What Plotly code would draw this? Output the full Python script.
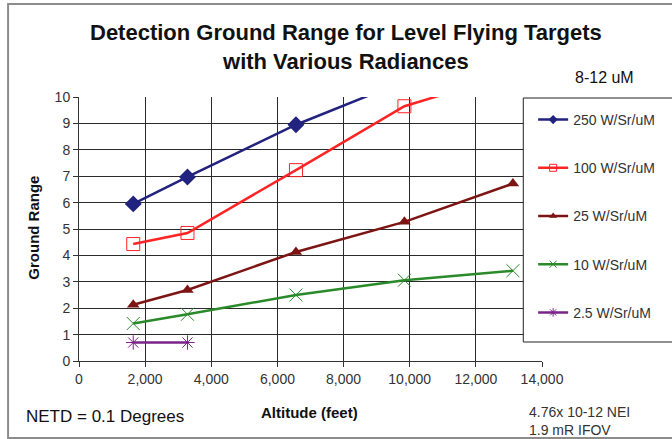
import plotly.graph_objects as go

# Altitude sample points (feet)
altitude = [1640, 3280, 6560, 9840, 13120]

# Detection ground range per target radiance
range_250 = [5.95, 6.97, 8.95, 10.6, 12.0]
range_100 = [4.43, 4.85, 7.23, 9.65, 10.9]
range_25 = [2.13, 2.69, 4.13, 5.27, 6.72]
range_10 = [1.42, 1.77, 2.5, 3.06, 3.42]
altitude_2p5 = [1640, 3280]
range_2p5 = [0.7, 0.7]

series_names = ["250 W/Sr/uM", "100 W/Sr/uM", "25 W/Sr/uM", "10 W/Sr/uM", "2.5 W/Sr/uM"]
x_ticks = [0, 2000, 4000, 6000, 8000, 10000, 12000, 14000]

FONT = "Liberation Sans, Arial, sans-serif"

# Plot-area geometry in pixels (figure is 672 x 439)
W, H = 672, 439
L, R, T, B = 79, 549, 97, 361


def px(x):
    return (x - L) / (R - L)


def py(y):
    return (B - y) / (B - T)


styles = [
    dict(color="#22227f", symbol="diamond", size=13, lw=0),
    dict(color="#ff2424", symbol="square-open", size=13, lw=1),
    dict(color="#7d1414", symbol="triangle-up", size=11, lw=0),
    dict(color="#2a8a2a", symbol="x-thin-open", size=13, lw=1),
    dict(color="#7b2488", symbol="asterisk-open", size=12, lw=1),
]
data = [
    (altitude, range_250),
    (altitude, range_100),
    (altitude, range_25),
    (altitude, range_10),
    (altitude_2p5, range_2p5),
]

fig = go.Figure()
for i, ((xs, ys), st, name) in enumerate(zip(data, styles, series_names)):
    fig.add_trace(go.Scatter(
        x=xs, y=ys, mode="lines+markers", name=name, showlegend=False,
        line=dict(color=st["color"], width=2.5),
        marker=dict(symbol=st["symbol"], size=st["size"], color=st["color"],
                    line=dict(color=st["color"], width=st["lw"])),
    ))
# legend entries with smaller symbols
for i, (st, name) in enumerate(zip(styles, series_names)):
    fig.add_trace(go.Scatter(
        x=[None], y=[None], mode="lines+markers", name=name,
        legendgroup=f"g{i}",
        line=dict(color=st["color"], width=2.5),
        marker=dict(symbol=st["symbol"], size=7, color=st["color"],
                    line=dict(color=st["color"], width=st["lw"])),
    ))

axis_common = dict(
    showline=True, linecolor="#333333", linewidth=1,
    ticks="outside", ticklen=5, tickcolor="#333333",
    showgrid=True, gridcolor="#2a2a2a", gridwidth=1,
    zeroline=False,
    tickfont=dict(family=FONT, size=14, color="#333333"),
)

fig.update_layout(
    width=W, height=H,
    margin=dict(l=L, r=W - R, t=T, b=H - B),
    paper_bgcolor="white", plot_bgcolor="white",
    font=dict(family=FONT),
    xaxis=dict(range=[0, 14000], tickvals=x_ticks, tickformat=",d", **axis_common),
    yaxis=dict(range=[0, 10], dtick=1, **axis_common),
    legend=dict(
        x=px(540), xanchor="left", y=py(104), yanchor="top",
        bgcolor="rgba(0,0,0,0)", borderwidth=0,
        font=dict(family=FONT, size=14, color="#333333"),
        traceorder="grouped", tracegroupgap=27,
    ),
    shapes=[
        # outer frame
        dict(type="rect", xref="paper", yref="paper",
             x0=px(7), x1=px(690), y0=py(438), y1=py(4),
             line=dict(color="#8c8c8c", width=2), layer="below"),
        # legend box
        dict(type="rect", xref="paper", yref="paper",
             x0=px(530), x1=px(700), y0=py(342), y1=py(98),
             line=dict(color="#222222", width=1), fillcolor="white", layer="above"),
    ],
    annotations=[
        dict(text="<b>Detection Ground Range for Level Flying Targets<br>with Various Radiances</b>",
             xref="paper", yref="paper", x=px(350), y=py(47), xanchor="center", yanchor="middle",
             showarrow=False, font=dict(family=FONT, size=22, color="#111111")),
        dict(text="8-12 uM", xref="paper", yref="paper", x=px(612), y=py(77),
             xanchor="center", yanchor="middle", showarrow=False,
             font=dict(family=FONT, size=16, color="#111111")),
        dict(text="<b>Ground Range</b>", xref="paper", yref="paper", x=px(32), y=py(228),
             xanchor="center", yanchor="middle", textangle=-90, showarrow=False,
             font=dict(family=FONT, size=15, color="#111111")),
        dict(text="<b>Altitude (feet)</b>", xref="paper", yref="paper", x=px(313), y=py(412),
             xanchor="center", yanchor="middle", showarrow=False,
             font=dict(family=FONT, size=15, color="#111111")),
        dict(text="NETD = 0.1 Degrees", xref="paper", yref="paper", x=px(23), y=py(416),
             xanchor="left", yanchor="middle", showarrow=False,
             font=dict(family=FONT, size=17, color="#111111")),
        dict(text="4.76x 10-12 NEI", xref="paper", yref="paper", x=px(534), y=py(412),
             xanchor="left", yanchor="middle", showarrow=False,
             font=dict(family=FONT, size=14, color="#333333")),
        dict(text="1.9 mR IFOV", xref="paper", yref="paper", x=px(534), y=py(430),
             xanchor="left", yanchor="middle", showarrow=False,
             font=dict(family=FONT, size=14, color="#333333")),
    ],
)

fig.write_html("out.html")
